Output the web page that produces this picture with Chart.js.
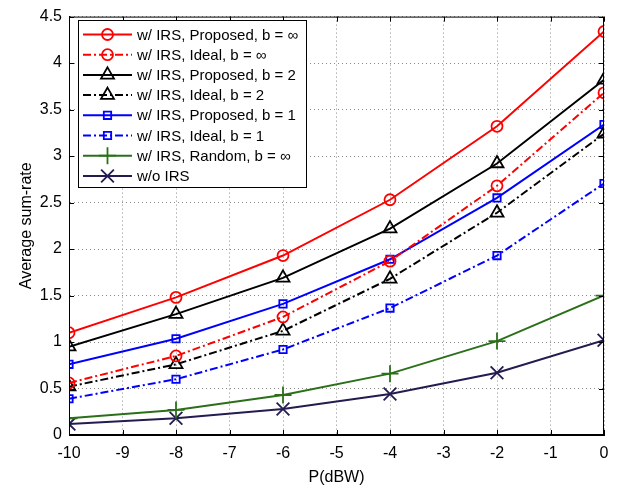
<!DOCTYPE html>
<html>
<head>
<meta charset="utf-8">
<script src="https://cdn.jsdelivr.net/npm/chart.js@4.4.1/dist/chart.umd.min.js"></script>
<style>
  html, body { margin: 0; padding: 0; background: #fff; }
  #wrap { width: 623px; height: 491px; }
</style>
</head>
<body>
<div id="wrap"><canvas id="rateChart" width="623" height="491"></canvas></div>
<script>
// transmit power P (dBW)
const powerDbw = [-10, -8, -6, -4, -2, 0];

// average sum-rate per scheme
const propInf   = [1.10, 1.48, 1.93, 2.53, 3.32, 4.34];
const idealInf  = [0.56, 0.85, 1.27, 1.87, 2.68, 3.68];
const propB2    = [0.95, 1.30, 1.69, 2.22, 2.92, 3.82];
const idealB2   = [0.52, 0.76, 1.12, 1.68, 2.39, 3.24];
const propB1    = [0.76, 1.035, 1.41, 1.89, 2.55, 3.34];
const idealB1   = [0.39, 0.60, 0.92, 1.365, 1.93, 2.705];
const randomInf = [0.18, 0.27, 0.43, 0.66, 1.01, 1.50];
const noIrs     = [0.117, 0.18, 0.28, 0.44, 0.67, 1.02];

const seriesNames = [
  'w/ IRS, Proposed, b = \u221E',
  'w/ IRS, Ideal, b = \u221E',
  'w/ IRS, Proposed, b = 2',
  'w/ IRS, Ideal, b = 2',
  'w/ IRS, Proposed, b = 1',
  'w/ IRS, Ideal, b = 1',
  'w/ IRS, Random, b = \u221E',
  'w/o IRS'
];

const xTicks = { min: -10, max: 0, step: 1 };
const yTicks = { min: 0, max: 4.5, step: 0.5 };

const FONT = '"Liberation Sans", Arial, Helvetica, sans-serif';
const DASHDOT = [8, 3, 2, 3];

function pts(vals) {
  return vals.map((v, i) => ({ x: powerDbw[i], y: v }));
}

function makeSet(label, vals, color, marker, radius, dashed) {
  return {
    label: label,
    data: pts(vals),
    borderColor: color,
    backgroundColor: color,
    borderWidth: 2,
    borderDash: dashed ? DASHDOT : [],
    pointStyle: marker,
    pointRadius: radius,
    pointHoverRadius: radius,
    pointBorderWidth: 1.8,
    pointBorderColor: color,
    pointBackgroundColor: 'rgba(0,0,0,0)',
    tension: 0,
    fill: false
  };
}

const RED = '#ff0000', BLACK = '#000000', BLUE = '#0000ff';
const GREEN = '#2b7019', NAVY = '#231c50';

const datasets = [
  makeSet(seriesNames[0], propInf,   RED,   'circle',   5.5, false),
  makeSet(seriesNames[1], idealInf,  RED,   'circle',   5.5, true),
  makeSet(seriesNames[2], propB2,    BLACK, 'triangle', 7.5, false),
  makeSet(seriesNames[3], idealB2,   BLACK, 'triangle', 7.5, true),
  makeSet(seriesNames[4], propB1,    BLUE,  'rect',     5.2, false),
  makeSet(seriesNames[5], idealB1,   BLUE,  'rect',     5.2, true),
  makeSet(seriesNames[6], randomInf, GREEN, 'cross',    8.5, false),
  makeSet(seriesNames[7], noIrs,     NAVY,  'crossRot', 9,   false)
];

// matlab-like frame: box on all sides with inward ticks
const boxPlugin = {
  id: 'boxPlugin',
  afterDatasetsDraw(chart) {
    const { ctx, chartArea: a, scales } = chart;
    ctx.save();
    ctx.strokeStyle = '#000';
    ctx.lineWidth = 1;
    ctx.setLineDash([]);
    ctx.strokeRect(a.left + 0.5, a.top + 0.5, a.right - a.left - 1, a.bottom - a.top - 1);
    const tl = 5;
    ctx.beginPath();
    scales.x.ticks.forEach(t => {
      const px = Math.round(scales.x.getPixelForValue(t.value)) + 0.5;
      ctx.moveTo(px, a.bottom); ctx.lineTo(px, a.bottom - tl);
      ctx.moveTo(px, a.top); ctx.lineTo(px, a.top + tl);
    });
    scales.y.ticks.forEach(t => {
      const py = Math.round(scales.y.getPixelForValue(t.value)) + 0.5;
      ctx.moveTo(a.left, py); ctx.lineTo(a.left + tl, py);
      ctx.moveTo(a.right, py); ctx.lineTo(a.right - tl, py);
    });
    ctx.stroke();
    ctx.restore();
  }
};

function drawMarker(ctx, ds, x, y) {
  const opts = {
    pointStyle: ds.pointStyle,
    radius: ds.pointRadius,
    rotation: 0,
    borderWidth: ds.pointBorderWidth
  };
  ctx.strokeStyle = ds.pointBorderColor;
  ctx.fillStyle = ds.pointBackgroundColor;
  ctx.lineWidth = ds.pointBorderWidth;
  ctx.setLineDash([]);
  Chart.helpers.drawPoint(ctx, opts, x, y);
}

// legend box with line + marker samples
const legendPlugin = {
  id: 'legendPlugin',
  afterDraw(chart) {
    const ctx = chart.ctx;
    const box = { left: 78, top: 20, right: 306, bottom: 187 };
    const rowY0 = 34.5, rowGap = 20.2;
    const lineX0 = 83, lineX1 = 132, textX = 137;
    ctx.save();
    ctx.fillStyle = '#fff';
    ctx.fillRect(box.left, box.top, box.right - box.left, box.bottom - box.top);
    ctx.strokeStyle = '#000';
    ctx.lineWidth = 1;
    ctx.strokeRect(box.left + 0.5, box.top + 0.5, box.right - box.left, box.bottom - box.top);
    chart.data.datasets.forEach((ds, i) => {
      const y = rowY0 + i * rowGap;
      ctx.strokeStyle = ds.borderColor;
      ctx.lineWidth = 2;
      ctx.setLineDash(ds.borderDash);
      ctx.beginPath();
      ctx.moveTo(lineX0, y);
      ctx.lineTo(lineX1, y);
      ctx.stroke();
      drawMarker(ctx, ds, (lineX0 + lineX1) / 2, y);
      ctx.fillStyle = '#000';
      ctx.font = '15px ' + FONT;
      ctx.textBaseline = 'middle';
      ctx.textAlign = 'left';
      ctx.fillText(ds.label, textX, y + 1);
    });
    ctx.restore();
  }
};

new Chart(document.getElementById('rateChart'), {
  type: 'line',
  data: { datasets: datasets },
  options: {
    responsive: false,
    animation: false,
    devicePixelRatio: 1,
    layout: { padding: { top: 12, right: 19, left: 0, bottom: 0 } },
    plugins: {
      legend: { display: false },
      tooltip: { enabled: false }
    },
    scales: {
      x: {
        type: 'linear',
        min: xTicks.min,
        max: xTicks.max,
        afterFit: s => { s.height = 56; },
        ticks: {
          stepSize: xTicks.step,
          color: '#000',
          font: { family: FONT, size: 16 },
          padding: 9,
          maxRotation: 0
        },
        grid: { color: '#8a8a8a', lineWidth: 1, drawTicks: false },
        border: { display: true, color: '#000', dash: [1, 3] },
        title: {
          display: true,
          text: 'P(dBW)',
          color: '#000',
          font: { family: FONT, size: 16 },
          padding: { top: 0, bottom: 4 }
        }
      },
      y: {
        type: 'linear',
        min: yTicks.min,
        max: yTicks.max,
        afterFit: s => { s.width = 69; },
        ticks: {
          stepSize: yTicks.step,
          color: '#000',
          font: { family: FONT, size: 16 },
          padding: 7,
          callback: v => String(Math.round(v * 10) / 10)
        },
        grid: { color: '#8a8a8a', lineWidth: 1, drawTicks: false },
        border: { display: true, color: '#000', dash: [1, 3] },
        title: {
          display: true,
          text: 'Average sum-rate',
          color: '#000',
          font: { family: FONT, size: 16 },
          padding: { top: 17, bottom: 0 }
        }
      }
    }
  },
  plugins: [boxPlugin, legendPlugin]
});
</script>
</body>
</html>
